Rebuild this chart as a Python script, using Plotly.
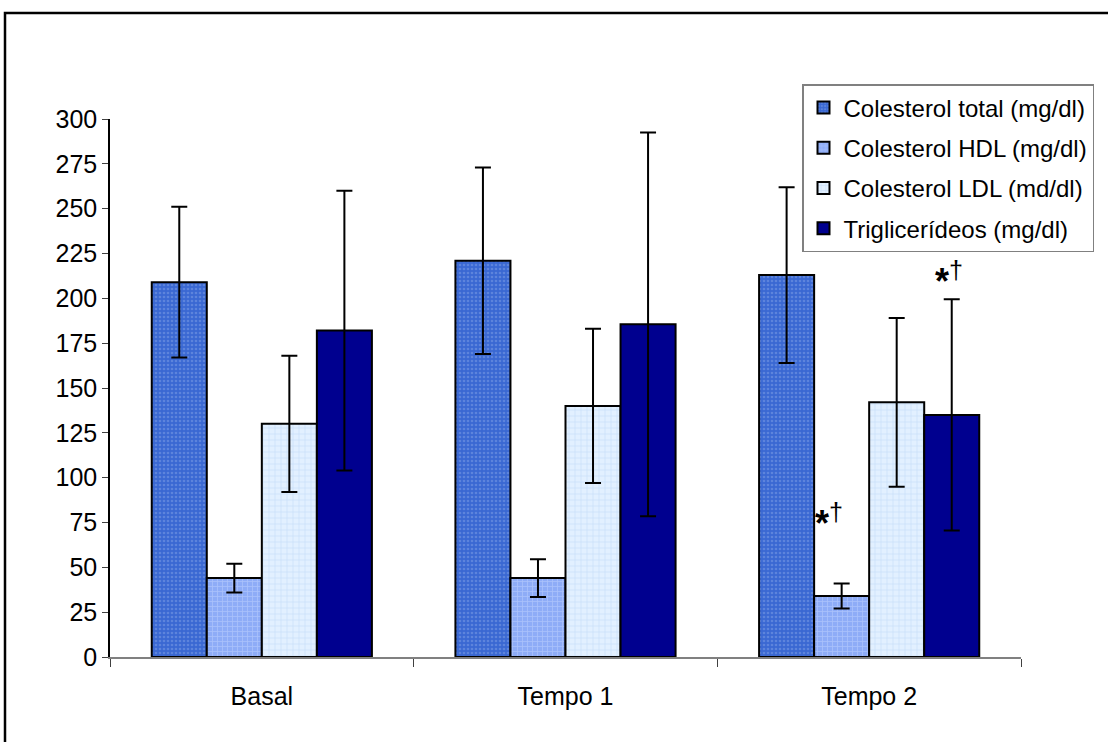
import plotly.graph_objects as go

categories = ["Basal", "Tempo 1", "Tempo 2"]
series_names = ["Colesterol total (mg/dl)", "Colesterol HDL (mg/dl)",
                "Colesterol LDL (md/dl)", "Triglicerídeos (mg/dl)"]
col_total = [209, 221, 213]
col_total_sd = [42, 52, 49]
col_hdl = [44, 44, 34]
col_hdl_sd = [8, 10.5, 7]
col_ldl = [130, 140, 142]
col_ldl_sd = [38, 43, 47]
trig = [182, 185.5, 135]
trig_sd = [78, 107, 64.5]
y_ticks = [0, 25, 50, 75, 100, 125, 150, 175, 200, 225, 250, 275, 300]

values = [col_total, col_hdl, col_ldl, trig]
sds = [col_total_sd, col_hdl_sd, col_ldl_sd, trig_sd]
styles = [
    dict(color="#3a68d2", pattern=dict(shape=".", fgcolor="#7f9fe6", bgcolor="#3a68d2", size=4, solidity=0.35)),
    dict(color="#94b2fa", pattern=dict(shape="+", fgcolor="#c4d5ff", bgcolor="#8eacf7", size=5, solidity=0.3)),
    dict(color="#dcecff", pattern=dict(shape="+", fgcolor="#b4d0f4", bgcolor="#e2f0ff", size=6, solidity=0.25)),
    dict(color="#00008f", pattern=None),
]

fig = go.Figure()
for i, name in enumerate(series_names):
    st = styles[i]
    marker = dict(color=st["color"], line=dict(color="black", width=2))
    if st["pattern"] is not None:
        marker["pattern"] = st["pattern"]
    fig.add_trace(go.Bar(
        x=categories, y=values[i], name=name, marker=marker,
        legendgroup=f"g{i}",
        error_y=dict(type="data", array=sds[i], visible=True,
                     color="black", thickness=2, width=8),
    ))

W, H = 1108, 742
L, R, T, B = 110, 87, 119, 85
pw, ph = W - L - R, H - T - B

def px_x(p):
    return (p - L) / pw

def px_y(p):
    return (H - B - p) / ph

# significance markers (Tempo 2 HDL and triglycerides)
fig.add_annotation(x=2, y=76, xref="x", yref="y", xshift=-40,
                   text="<b>*</b><sup>†</sup>", showarrow=False,
                   font=dict(family="Liberation Sans, Arial", size=36, color="black"))
fig.add_annotation(x=2, y=211, xref="x", yref="y", xshift=80,
                   text="<b>*</b><sup>†</sup>", showarrow=False,
                   font=dict(family="Liberation Sans, Arial", size=36, color="black"))

# outer chart border
fig.add_shape(type="rect", xref="paper", yref="paper",
              x0=px_x(5), x1=px_x(1120), y0=px_y(13), y1=px_y(760),
              line=dict(color="black", width=2.5), fillcolor="rgba(0,0,0,0)", layer="below")

fig.update_layout(
    width=W, height=H,
    margin=dict(l=L, r=R, t=T, b=B, autoexpand=False),
    paper_bgcolor="white", plot_bgcolor="white",
    barmode="group", bargap=0.275, bargroupgap=0,
    font=dict(family="Liberation Sans, Arial", size=22, color="black"),
    legend=dict(x=px_x(802), y=px_y(84), xanchor="left", yanchor="top",
                bordercolor="#808080", borderwidth=1.5, bgcolor="white",
                font=dict(size=24), tracegroupgap=6, itemwidth=30),
    showlegend=True,
    xaxis=dict(showline=True, linecolor="#808080", linewidth=1.5,
               ticks="outside", tickson="boundaries", ticklen=8, tickcolor="#404040",
               showgrid=False, tickfont=dict(size=25), ticklabelstandoff=16),
    yaxis=dict(range=[0, 300], tickvals=y_ticks, showline=True, linecolor="black",
               linewidth=1.5, ticks="outside", ticklen=6, tickcolor="#404040",
               showgrid=False, zeroline=False, tickfont=dict(size=25)),
)

fig.write_html("out.html", config={"displayModeBar": False},
               post_script="document.body.style.margin='0px';")
